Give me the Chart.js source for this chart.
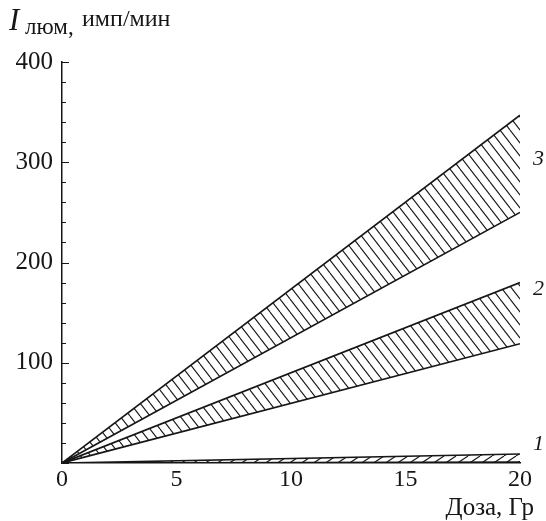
<!DOCTYPE html>
<html>
<head>
<meta charset="utf-8">
<script src="https://cdn.jsdelivr.net/npm/chart.js@4.4.0/dist/chart.umd.min.js"></script>
<style>
  html, body { margin: 0; padding: 0; background: #fff; }
  #wrap { width: 546px; height: 521px; }
</style>
</head>
<body>
<div id="wrap"><canvas id="chart" width="546" height="521"></canvas></div>
<script>
// Dose axis (Gy) and luminescence intensity bands (imp/min)
const doses = [0, 20];
const band3Upper = [0, 347];
const band3Lower = [0, 250];
const band2Upper = [0, 180];
const band2Lower = [0, 119];
const band1Upper = [0, 9];
const band1Lower = [0, 1];
const xTicks = [0, 5, 10, 15, 20];
const yTicks = [100, 200, 300, 400];
const bandLabels = ['3', '2', '1'];

const INK = '#161616';
const SERIF = '"Liberation Serif", "DejaVu Serif", serif';

// hatch pattern: lines in a w x h tile, dir 1 = "\" , -1 = "/"
function hatch(w, h, dir) {
  const c = document.createElement('canvas');
  c.width = w; c.height = h;
  const g = c.getContext('2d');
  g.strokeStyle = INK;
  g.lineWidth = 1.1;
  for (let k = -1; k <= 1; k++) {
    g.beginPath();
    if (dir > 0) { g.moveTo(k * w, 0); g.lineTo(k * w + w, h); }
    else { g.moveTo(k * w, h); g.lineTo(k * w + w, 0); }
    g.stroke();
  }
  return g.createPattern(c, 'repeat');
}

const toPts = ys => doses.map((x, i) => ({ x: x, y: ys[i] }));

function line(ys, fill, bg) {
  return {
    data: toPts(ys),
    borderColor: INK,
    borderWidth: 1.7,
    pointRadius: 0,
    fill: fill,
    backgroundColor: bg || 'transparent',
    tension: 0
  };
}

const diagHatch = hatch(10, 13, 1);
const flatHatch = hatch(12, 8, -1);

// inward ticks, axis titles and band numbers
const decor = {
  id: 'decor',
  afterDraw(chart) {
    const { ctx, scales: { x, y }, chartArea: a } = chart;
    ctx.save();
    ctx.strokeStyle = INK;
    ctx.lineWidth = 1.2;
    ctx.beginPath();
    for (let v = 0; v <= 400; v += 20) {
      const py = Math.round(y.getPixelForValue(v)) + 0.5;
      const len = v % 100 === 0 ? 7 : 4;
      ctx.moveTo(a.left, py);
      ctx.lineTo(a.left + len, py);
    }
    ctx.stroke();

    ctx.fillStyle = INK;
    ctx.textBaseline = 'alphabetic';
    ctx.font = 'italic 31px ' + SERIF;
    ctx.fillText('I', 9, 30);
    ctx.font = '23px ' + SERIF;
    ctx.fillText('люм,', 25, 34);
    ctx.font = '24px ' + SERIF;
    ctx.fillText('имп/мин', 82, 26);

    ctx.font = '25px ' + SERIF;
    ctx.textAlign = 'right';
    ctx.fillText('Доза, Гр', 534, 515);

    // band numbers sit just right of each band's end
    ctx.font = 'italic 22px ' + SERIF;
    ctx.textAlign = 'left';
    const tops = [band3Upper, band2Upper, band1Upper];
    const bots = [band3Lower, band2Lower, band1Lower];
    const nudge = [-7, -26, -16];
    bandLabels.forEach((t, i) => {
      const mid = (tops[i][1] + bots[i][1]) / 2;
      const py = y.getPixelForValue(mid) + nudge[i];
      ctx.fillText(t, 533, py + 8);
    });
    ctx.restore();
  }
};

new Chart(document.getElementById('chart'), {
  type: 'line',
  data: {
    datasets: [
      line(band3Upper, '+1', diagHatch),
      line(band3Lower, false),
      line(band2Upper, '+1', diagHatch),
      line(band2Lower, false),
      line(band1Upper, '+1', flatHatch),
      line(band1Lower, false)
    ]
  },
  options: {
    responsive: false,
    animation: false,
    devicePixelRatio: 1,
    layout: { padding: { top: 62, right: 26, left: 0, bottom: 0 } },
    plugins: { legend: { display: false }, tooltip: { enabled: false } },
    scales: {
      x: {
        type: 'linear',
        min: 0, max: 20,
        afterFit: s => { s.height = 58; },
        afterBuildTicks: s => { s.ticks = xTicks.map(v => ({ value: v })); },
        grid: { display: false },
        border: { display: true, color: INK, width: 1.5 },
        ticks: { color: INK, font: { family: SERIF, size: 24 }, padding: -6, maxRotation: 0 }
      },
      y: {
        type: 'linear',
        min: 0, max: 400,
        afterFit: s => { s.width = 62; },
        afterBuildTicks: s => { s.ticks = yTicks.map(v => ({ value: v })); },
        grid: { display: false },
        border: { display: true, color: INK, width: 1.5 },
        ticks: { color: INK, font: { family: SERIF, size: 25 }, padding: 1 }
      }
    }
  },
  plugins: [decor]
});
</script>
</body>
</html>
